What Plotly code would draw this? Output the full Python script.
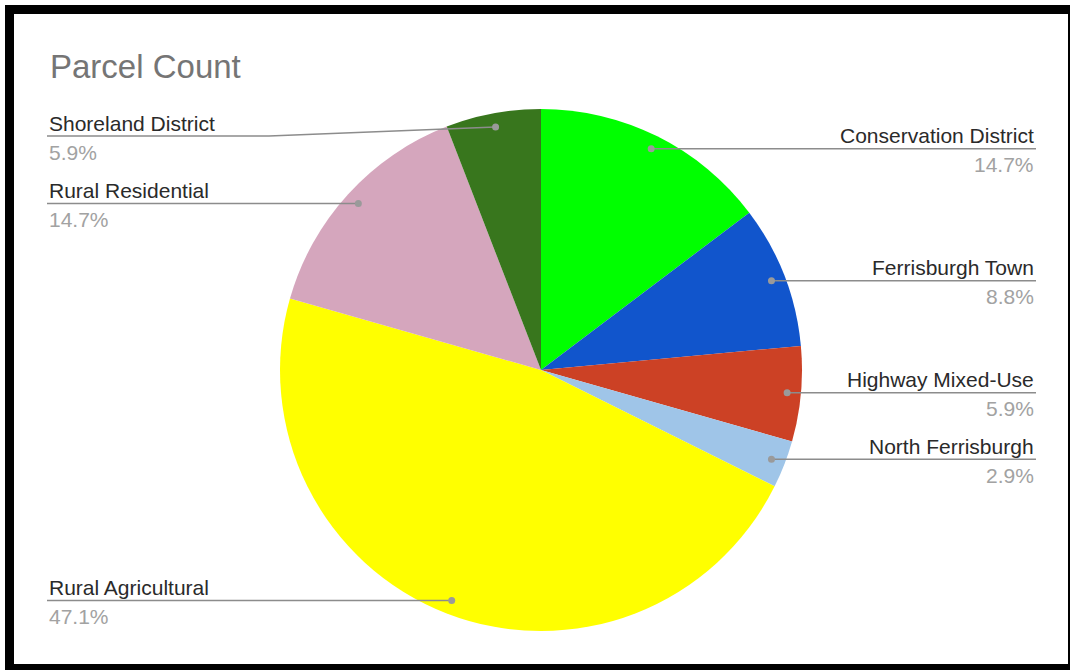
import math
import plotly.graph_objects as go

# Parcel counts per zoning district
zones = [
    "Conservation District",
    "Ferrisburgh Town",
    "Highway Mixed-Use",
    "North Ferrisburgh",
    "Rural Agricultural",
    "Rural Residential",
    "Shoreland District",
]
parcels = [5, 3, 2, 1, 16, 5, 2]
slice_colors = ["#00ff00", "#1155cc", "#cc4125", "#9fc5e8", "#ffff00", "#d5a6bd", "#38761d"]
title_text = "Parcel Count"

# Page geometry (pixels)
W, H = 1070, 670
CX, CY, R = 541, 370, 261
DOT_R = 0.947 * R
RIGHT_X, LEFT_X = 1036, 47
TOP_LINE = 136
KNEE = 222
FONT = "Liberation Sans, Arial, sans-serif"


def fx(x):
    return x / W


def fy(y):
    return 1 - y / H


total = sum(parcels)

fig = go.Figure(
    go.Pie(
        labels=zones,
        values=parcels,
        sort=False,
        direction="clockwise",
        rotation=0,
        marker=dict(colors=slice_colors, line=dict(width=0)),
        textinfo="none",
        hoverinfo="skip",
        showlegend=False,
        domain=dict(x=[fx(CX - R), fx(CX + R)], y=[fy(CY + R), fy(CY - R)]),
    )
)

# Frame around the chart
shapes = [
    dict(type="rect", xref="paper", yref="paper", x0=fx(5), x1=fx(1070), y0=fy(670), y1=fy(5),
         fillcolor="#000000", line=dict(width=0), layer="below"),
    dict(type="rect", xref="paper", yref="paper", x0=fx(14), x1=fx(1068), y0=fy(664), y1=fy(14),
         fillcolor="#ffffff", line=dict(width=0), layer="below"),
]

annotations = [
    dict(text=title_text, x=fx(48), y=fy(67), xref="paper", yref="paper", xanchor="left",
         yanchor="middle", showarrow=False, font=dict(family=FONT, size=33, color="#757575")),
]

# Leader lines, dots and labels derived from each slice's mid-angle
cum = 0
for name, v in zip(zones, parcels):
    mid = (cum + v / 2) / total * 2 * math.pi
    cum += v
    dx = DOT_R * math.sin(mid)
    dy = -DOT_R * math.cos(mid)
    px, py = CX + dx, CY + dy
    line_y = max(py, TOP_LINE)
    right = dx > 0
    if right:
        path = (f"M {fx(px)},{fy(py)} L {fx(RIGHT_X - KNEE)},{fy(line_y)} "
                f"L {fx(RIGHT_X)},{fy(line_y)}") if line_y != py else \
               f"M {fx(px)},{fy(py)} L {fx(RIGHT_X)},{fy(line_y)}"
        tx, anchor = RIGHT_X, "right"
    else:
        path = (f"M {fx(LEFT_X)},{fy(line_y)} L {fx(LEFT_X + KNEE)},{fy(line_y)} "
                f"L {fx(px)},{fy(py)}") if line_y != py else \
               f"M {fx(LEFT_X)},{fy(line_y)} L {fx(px)},{fy(py)}"
        tx, anchor = LEFT_X, "left"
    shapes.append(dict(type="path", xref="paper", yref="paper", path=path,
                       line=dict(color="#8c8c8c", width=1.6), layer="above"))
    dr = 3.5
    shapes.append(dict(type="circle", xref="paper", yref="paper",
                       x0=fx(px - dr), x1=fx(px + dr), y0=fy(py + dr), y1=fy(py - dr),
                       fillcolor="#9a9a9a", line=dict(width=0), layer="above"))
    annotations.append(dict(text=name, x=fx(tx), y=fy(line_y - 13), xref="paper", yref="paper",
                            xanchor=anchor, yanchor="middle", showarrow=False,
                            font=dict(family=FONT, size=21, color="#2a2a2a")))
    annotations.append(dict(text=f"{v / total * 100:.1f}%", x=fx(tx), y=fy(line_y + 16),
                            xref="paper", yref="paper", xanchor=anchor, yanchor="middle",
                            showarrow=False, font=dict(family=FONT, size=21, color="#a2a2a2")))

fig.update_layout(
    width=W,
    height=H,
    margin=dict(l=0, r=0, t=0, b=0),
    paper_bgcolor="#ffffff",
    plot_bgcolor="#ffffff",
    shapes=shapes,
    annotations=annotations,
    hovermode=False,
)

fig.write_html("out.html", config=dict(displayModeBar=False))
